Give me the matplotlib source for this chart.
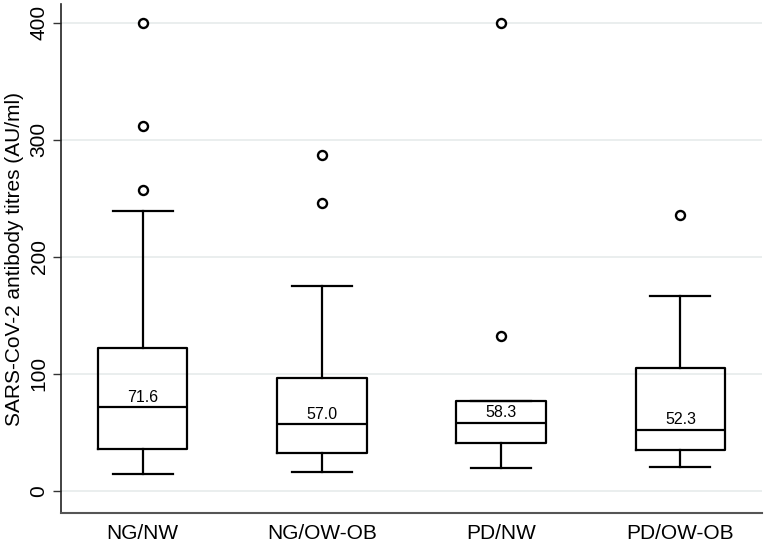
import matplotlib
matplotlib.use("Agg")
import matplotlib.pyplot as plt

plt.rcParams['font.family'] = ['Liberation Sans', 'DejaVu Sans']

categories = ["NG/NW", "NG/OW-OB", "PD/NW", "PD/OW-OB"]
medians = [71.6, 57.0, 58.3, 52.3]
q1 = [35.6, 32.2, 41.3, 34.8]
q3 = [122.0, 96.3, 76.9, 105.4]
whisk_lo = [14.5, 16.2, 19.4, 20.3]
whisk_hi = [239.6, 175.0, 76.9, 166.7]
outliers = [[400.0, 311.4, 257.0], [286.9, 245.9], [400.0, 132.7], [236.0]]
yticks = [0, 100, 200, 300, 400]

fig = plt.figure(figsize=(7.67, 5.44), dpi=100)
ax = fig.add_axes([61/767, 1 - 513/544, (762 - 61)/767, (513 - 4)/544])

stats = []
for i, c in enumerate(categories):
    stats.append(dict(label=c, med=medians[i], q1=q1[i], q3=q3[i],
                      whislo=whisk_lo[i], whishi=whisk_hi[i], fliers=outliers[i]))

lw = 1.6
ax.bxp(stats, positions=range(len(categories)), widths=0.5, showfliers=True,
       boxprops=dict(color='black', linewidth=lw),
       medianprops=dict(color='black', linewidth=lw),
       whiskerprops=dict(color='black', linewidth=lw),
       capprops=dict(color='black', linewidth=lw),
       capwidths=0.335,
       flierprops=dict(marker='o', markersize=6.5, markerfacecolor='white',
                       markeredgecolor='black', markeredgewidth=1.7))

for i, m in enumerate(medians):
    ax.text(i, m + 2, f"{m:.1f}", ha='center', va='bottom', fontsize=11.5)

ax.set_xlim(-0.455, 3.455)
ax.set_ylim(-18.8, 416)
ax.set_yticks(yticks)
ax.set_yticklabels([str(t) for t in yticks], rotation=90, va='center', fontsize=15)
ax.set_xticks(range(len(categories)))
ax.set_xticklabels(categories, fontsize=15)
ax.tick_params(axis='x', length=0, pad=8)
ax.tick_params(axis='y', length=6, width=1, pad=3, color='#333333')
ax.set_ylabel("SARS-CoV-2 antibody titres (AU/ml)", fontsize=15, labelpad=4)

ax.grid(axis='y', color='#e6ebeb', linewidth=1.2)
ax.set_axisbelow(True)
for s in ['top', 'right']:
    ax.spines[s].set_visible(False)
ax.spines['left'].set_color('#222222')
ax.spines['bottom'].set_color('#555555')
ax.spines['left'].set_linewidth(1.2)
ax.spines['bottom'].set_linewidth(1.5)

fig.savefig("out.png", dpi=100)
